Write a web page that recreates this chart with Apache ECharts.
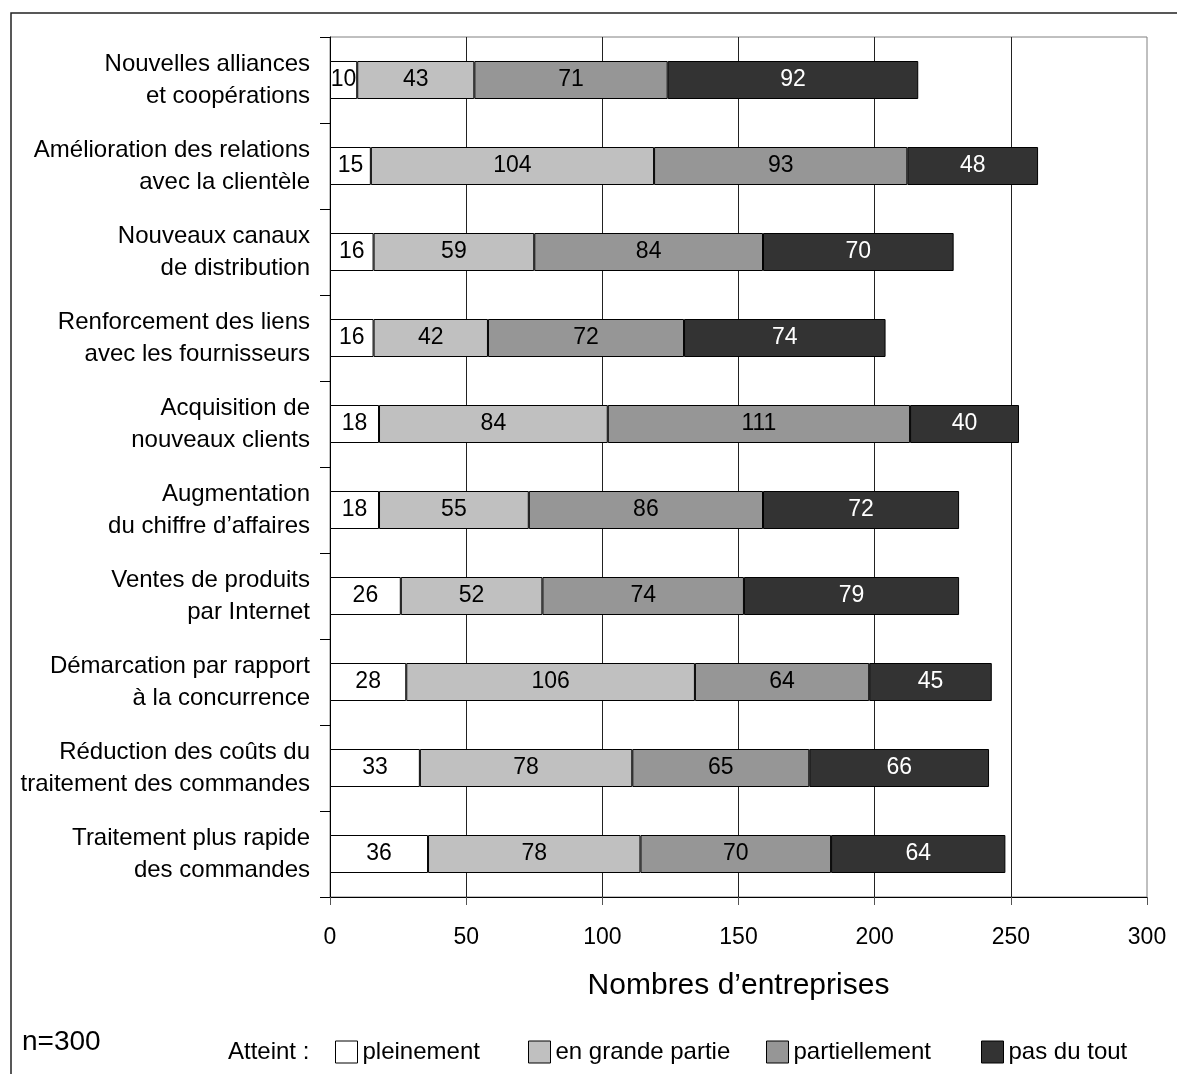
<!DOCTYPE html>
<html>
<head>
<meta charset="utf-8">
<script src="https://cdn.jsdelivr.net/npm/echarts@6/dist/echarts.min.js"></script>
<style>
  html, body { margin: 0; padding: 0; background: #fff; }
  #chart { width: 1177px; height: 1074px; }
</style>
</head>
<body>
<div id="chart"></div>
<script>
// Objectifs de l'e-business : nombre d'entreprises par degré d'atteinte (n=300)
const categories = [
  'Nouvelles alliances\net coopérations',
  'Amélioration des relations\navec la clientèle',
  'Nouveaux canaux\nde distribution',
  'Renforcement des liens\navec les fournisseurs',
  'Acquisition de\nnouveaux clients',
  'Augmentation\ndu chiffre d’affaires',
  'Ventes de produits\npar Internet',
  'Démarcation par rapport\nà la concurrence',
  'Réduction des coûts du\ntraitement des commandes',
  'Traitement plus rapide\ndes commandes'
];

const seriesNames = ['pleinement', 'en grande partie', 'partiellement', 'pas du tout'];

const pleinement     = [10, 15, 16, 16, 18, 18, 26, 28, 33, 36];
const enGrandePartie = [43, 104, 59, 42, 84, 55, 52, 106, 78, 78];
const partiellement  = [71, 93, 84, 72, 111, 86, 74, 64, 65, 70];
const pasDuTout      = [92, 48, 70, 74, 40, 72, 79, 45, 66, 64];

const xMin = 0, xMax = 300, xStep = 50;
const axisTitle = 'Nombres d’entreprises';
const sampleNote = 'n=300';
const legendPrefix = 'Atteint :';

const seriesValues = [pleinement, enGrandePartie, partiellement, pasDuTout];

const FONT = '"Liberation Sans", Arial, Helvetica, sans-serif';
const fills = ['#ffffff', '#c0c0c0', '#969696', '#333333'];
const labelColors = ['#000', '#000', '#000', '#fff'];

const chart = echarts.init(document.getElementById('chart'), null, { renderer: 'canvas' });

const legendLefts = [335, 528, 766, 981];

const option = {
  backgroundColor: '#ffffff',
  animation: false,
  textStyle: { fontFamily: FONT },
  grid: {
    left: 330, right: 30, top: 37, bottom: 177,
    show: true,
    borderColor: '#808080',
    borderWidth: 1,
    backgroundColor: 'transparent'
  },
  xAxis: {
    type: 'value',
    min: xMin,
    max: xMax,
    interval: xStep,
    position: 'bottom',
    axisLine: { show: true, lineStyle: { color: '#000', width: 1 } },
    axisTick: { show: true, length: 8, lineStyle: { color: '#555' } },
    axisLabel: { color: '#000', fontSize: 23, margin: 29, fontFamily: FONT },
    splitLine: { show: true, showMaxLine: false, lineStyle: { color: '#222', width: 1 } },
    name: axisTitle,
    nameLocation: 'middle',
    nameGap: 74,
    nameTextStyle: { color: '#000', fontSize: 30, fontFamily: FONT }
  },
  yAxis: {
    type: 'category',
    data: categories,
    inverse: true,
    axisLine: { show: true, lineStyle: { color: '#000', width: 1 } },
    axisTick: { show: true, length: 10, lineStyle: { color: '#000' } },
    axisLabel: {
      color: '#000', fontSize: 24, lineHeight: 32, margin: 20,
      align: 'right', fontFamily: FONT
    },
    splitLine: { show: false }
  },
  legend: seriesNames.map((name, i) => ({
    data: [{
      name: name,
      icon: 'rect',
      itemStyle: { color: fills[i], borderColor: '#000', borderWidth: 1 }
    }],
    left: legendLefts[i],
    top: 1040,
    padding: 0,
    itemWidth: 22,
    itemHeight: 22,
    selectedMode: false,
    textStyle: { color: '#000', fontSize: 24, fontFamily: FONT }
  })),
  series: seriesNames.map((name, i) => ({
    name: name,
    type: 'bar',
    stack: 'total',
    barWidth: 38,
    data: seriesValues[i],
    itemStyle: { color: fills[i], borderColor: '#000', borderWidth: 1 },
    label: {
      show: true,
      position: 'inside',
      color: labelColors[i],
      fontSize: 23,
      fontFamily: FONT
    },
    emphasis: { disabled: true }
  })),
  graphic: [
    {
      type: 'rect',
      silent: true,
      shape: { x: 11, y: 13, width: 1400, height: 1400 },
      style: { fill: 'none', stroke: '#222', lineWidth: 1.5 },
      z: 0
    },
    {
      type: 'text',
      left: 22,
      top: 1028,
      style: { text: sampleNote, fill: '#000', font: '28px ' + FONT }
    },
    {
      type: 'text',
      left: 228,
      top: 1040,
      style: { text: legendPrefix, fill: '#000', font: '24px ' + FONT }
    }
  ]
};

chart.setOption(option);
</script>
</body>
</html>
